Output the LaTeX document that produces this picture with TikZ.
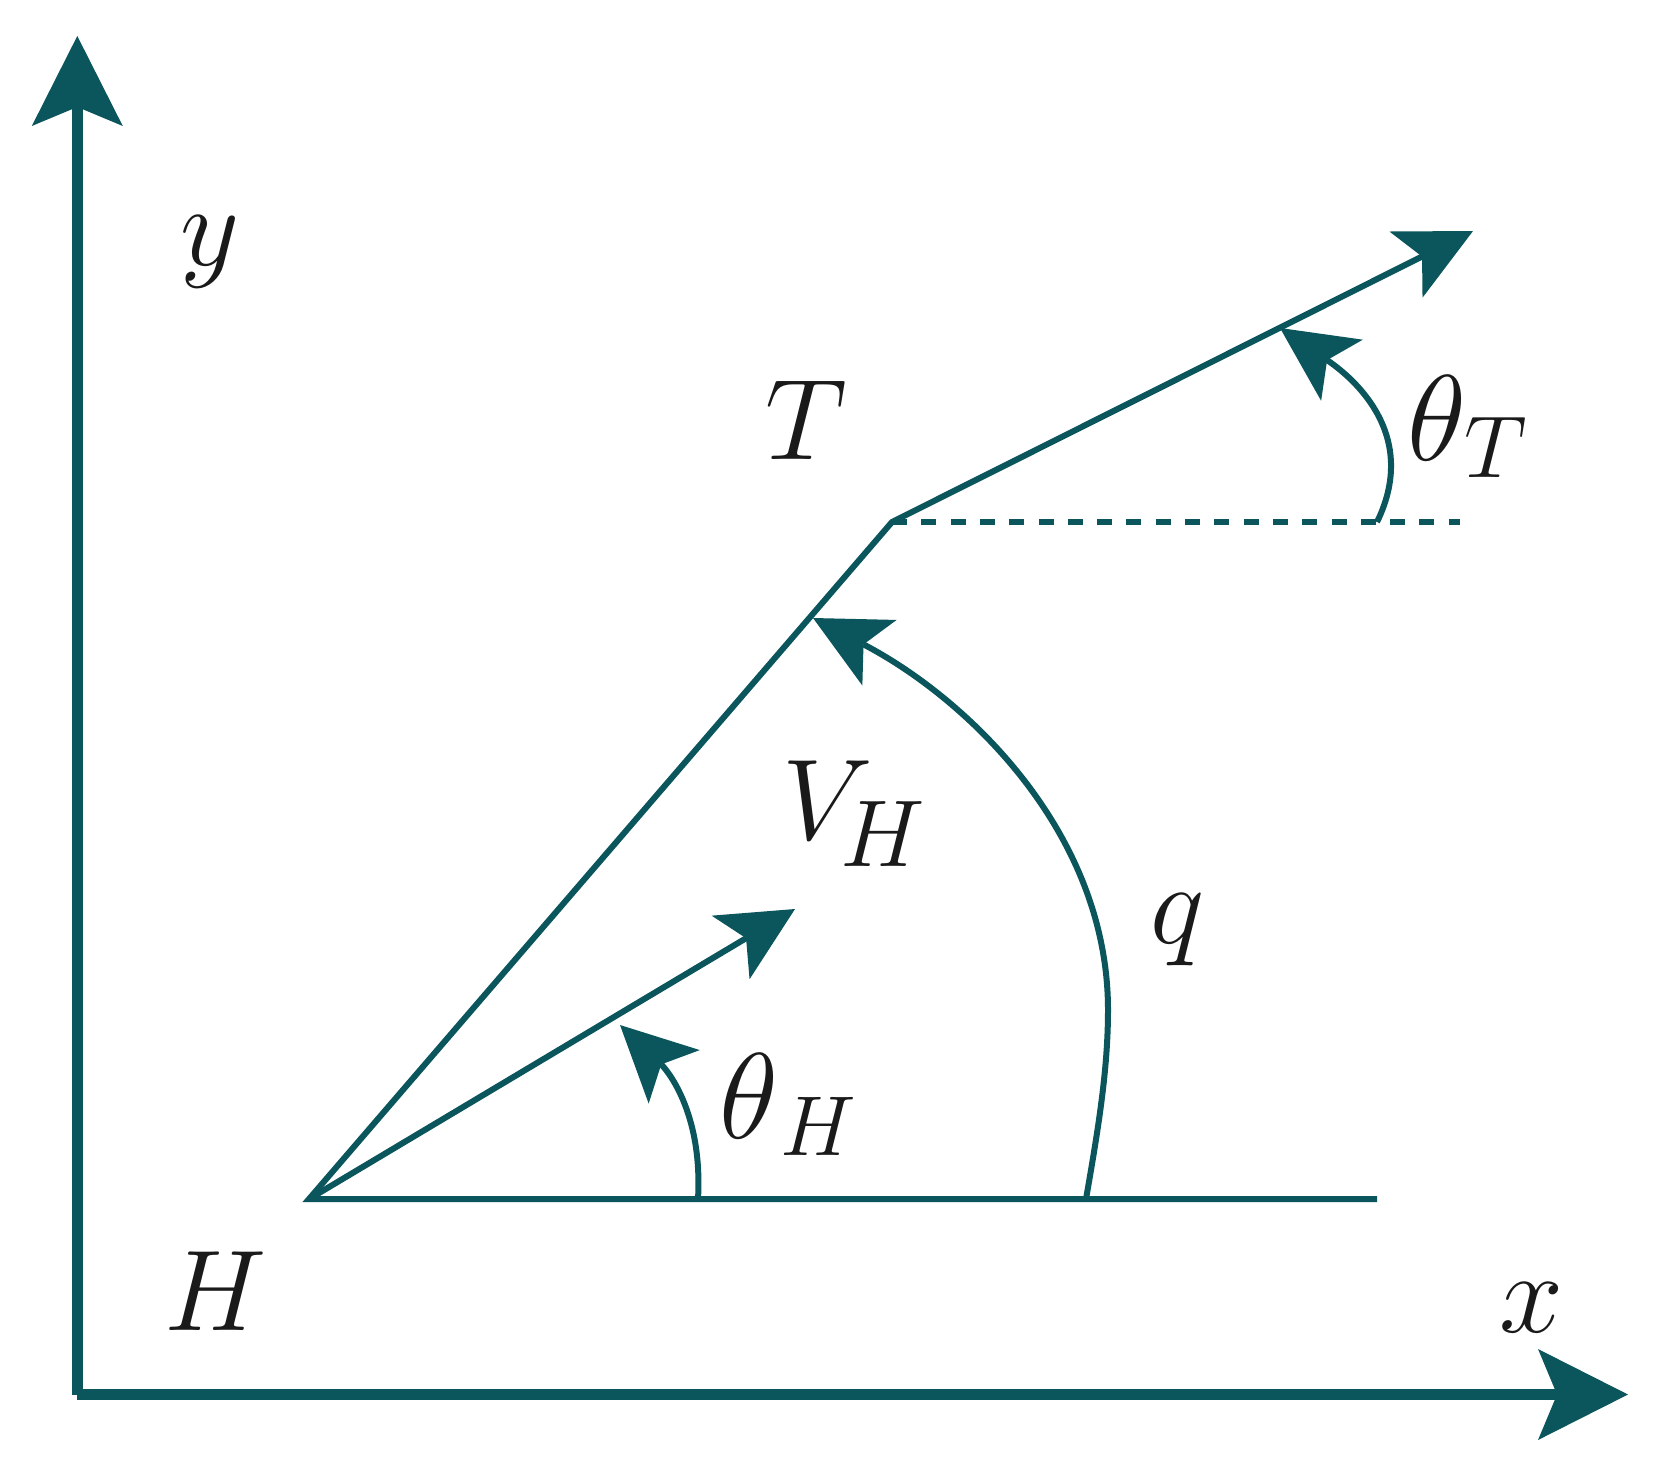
\RequirePackage{fix-cm}
\documentclass[tikz,border=0pt]{standalone}
\usetikzlibrary{arrows.meta}
\definecolor{tealA}{RGB}{11,86,92}
\definecolor{inkA}{RGB}{26,26,26}
\begin{document}
\begin{tikzpicture}[x=1pt,y=-1pt,
  axisline/.style={draw=tealA, line width=10.7pt, -{Stealth[length=90pt,width=91pt,inset=19pt,line width=0pt]}},
  thinline/.style={draw=tealA, line width=6pt},
  thinarrow/.style={thinline, -{Stealth[length=75pt,width=74pt,inset=18pt,line width=0pt]}},
  lbl/.style={inner sep=0pt, anchor=base west, text=inkA},
  big/.style={font=\fontsize{115}{115}\selectfont},
  greek/.style={font=\fontsize{122}{122}\selectfont}]
\path[fill=white, use as bounding box] (0,0) rectangle (1653,1465);
% coordinates
\coordinate (Ybot) at (77.3,1395);
\coordinate (Ytop) at (77.3,36);
\coordinate (Xbeg) at (77,1394.5);
\coordinate (Xend) at (1628,1394.5);
\coordinate (H) at (309,1199);
\coordinate (T) at (892,522);
\coordinate (Hend) at (1377,1199);
\coordinate (Dend) at (1460,522);
\coordinate (Ttip) at (1473,231);
\coordinate (Vtip) at (795,909);
\coordinate (qs) at (1086,1199);
\coordinate (qm) at (1108,1010);
\coordinate (qe) at (813,618);
\coordinate (ths) at (698,1199);
\coordinate (the) at (620,1025);
\coordinate (tts) at (1377,522);
\coordinate (tte) at (1280,328);
% axes
\draw[axisline] (Ybot) -- (Ytop);
\draw[axisline] (Xbeg) -- (Xend);
% main lines
\draw[thinarrow] (Hend) -- (H) -- (T) -- (Ttip);
\draw[thinline, dash pattern=on 15pt off 14.3pt] (T) -- (Dend);
\draw[thinarrow] (H) -- (Vtip);
% angle arcs
\draw[thinarrow] (qs) .. controls (1098,1130) and (1108,1070) .. (qm)
                      .. controls (1108,834) and (969,699.5) .. (qe);
\draw[thinarrow] (ths) .. controls (703,1110) and (665,1068) .. (the);
\draw[thinarrow] (tts) .. controls (1422,430) and (1346,373) .. (tte);
% labels
\node[lbl, big] (ylab) at (180,265) {$y$};
\node[lbl, big] (xlab) at (1499,1332) {$x$};
\node[lbl, big] (Tlab) at (765,459) {$T$};
\node[lbl, big] (Hlab) at (164,1330) {$H$};
\node[lbl, big] (Vlab) at (782,839) {$V$};
\node[lbl, font=\fontsize{95}{95}\selectfont] (VHsub) at (840,866) {$H$};
\node[lbl, big] (qlab) at (1150,943) {$q$};
\node[lbl, greek] (thH) at (719,1138) {$\theta$};
\node[lbl, font=\fontsize{85}{85}\selectfont] (thHsub) at (780,1155) {$H$};
\node[lbl, greek] (thT) at (1407,460) {$\theta$};
\node[lbl, font=\fontsize{88}{88}\selectfont] (thTsub) at (1464,477) {$T$};
\end{tikzpicture}
\end{document}
